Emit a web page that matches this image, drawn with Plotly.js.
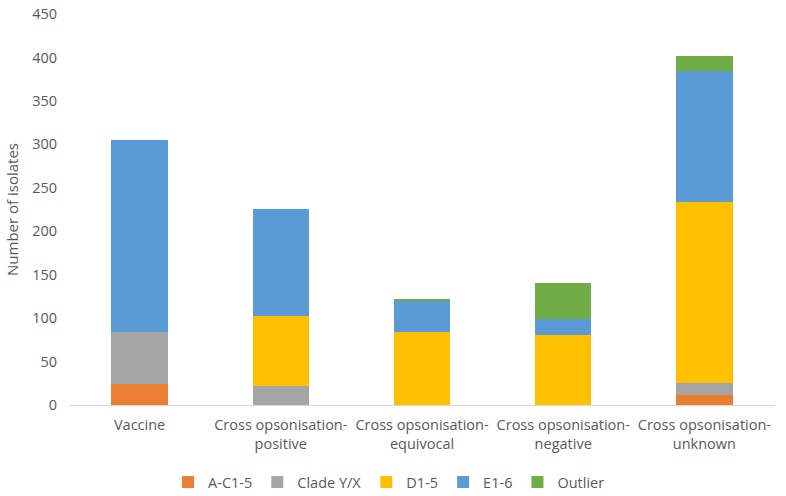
<!DOCTYPE html>
<html>
<head>
<meta charset="utf-8">
<script src="https://cdn.plot.ly/plotly-3.0.1.min.js"></script>
<style>
  html, body { margin: 0; padding: 0; background: #fff; }
  #chart { width: 786px; height: 496px; }
</style>
</head>
<body>
<div id="chart"></div>
<script>
// categories along the x axis
const categories = [
    "Vaccine",
    "Cross opsonisation-<br>positive",
    "Cross opsonisation-<br>equivocal",
    "Cross opsonisation-<br>negative",
    "Cross opsonisation-<br>unknown"
];

// number of isolates per group
const acValues = [24, 0, 0, 0, 12];
const cladeValues = [60, 22, 0, 0, 13];
const dValues = [0, 81, 84, 81, 209];
const eValues = [221, 123, 36, 18, 150];
const outlierValues = [0, 0, 2, 41, 18];

const seriesNames = ["A-C1-5", "Clade Y/X", "D1-5", "E1-6", "Outlier"];
const seriesColors = ["#ED7D31", "#A5A5A5", "#FFC000", "#5B9BD5", "#70AD47"];
const yTicks = [0, 50, 100, 150, 200, 250, 300, 350, 400, 450];

const allValues = [acValues, cladeValues, dValues, eValues, outlierValues];

let data = [];
for (let i = 0; i < allValues.length; i++) {
    data.push({
        x: categories,
        y: allValues[i],
        type: 'bar',
        name: seriesNames[i],
        marker: { color: seriesColors[i], line: { width: 0 } },
        hoverinfo: 'x+y+name'
    });
}

const txtFont = { family: 'Open Sans, sans-serif', size: 14.5, color: '#595959' };

const layout = {
    width: 786,
    height: 496,
    barmode: 'stack',
    bargap: 0.6,
    margin: { l: 69, r: 11, t: 14, b: 91 },
    paper_bgcolor: '#ffffff',
    plot_bgcolor: '#ffffff',
    font: txtFont,
    showlegend: true,
    // legend placed against the whole figure so it does not push the plot up
    legend: {
        orientation: 'h',
        traceorder: 'normal',
        xref: 'container',
        yref: 'container',
        x: 0.495,
        xanchor: 'center',
        y: 0.028,
        yanchor: 'middle',
        font: txtFont,
        itemwidth: 30
    },
    xaxis: {
        type: 'category',
        automargin: false,
        showline: true,
        linecolor: '#D9D9D9',
        linewidth: 1,
        showgrid: false,
        ticks: 'outside',
        ticklen: 7,
        tickcolor: 'rgba(0,0,0,0)',
        tickfont: txtFont
    },
    yaxis: {
        range: [0, 450],
        tickvals: yTicks,
        automargin: false,
        showgrid: false,
        zeroline: false,
        showline: false,
        ticks: 'outside',
        ticklen: 8,
        tickcolor: 'rgba(0,0,0,0)',
        tickfont: txtFont,
        title: { text: 'Number of isolates', font: { family: 'Open Sans, sans-serif', size: 15, color: '#595959' }, standoff: 9 }
    }
};

Plotly.newPlot('chart', data, layout, { displayModeBar: false });
</script>
</body>
</html>
